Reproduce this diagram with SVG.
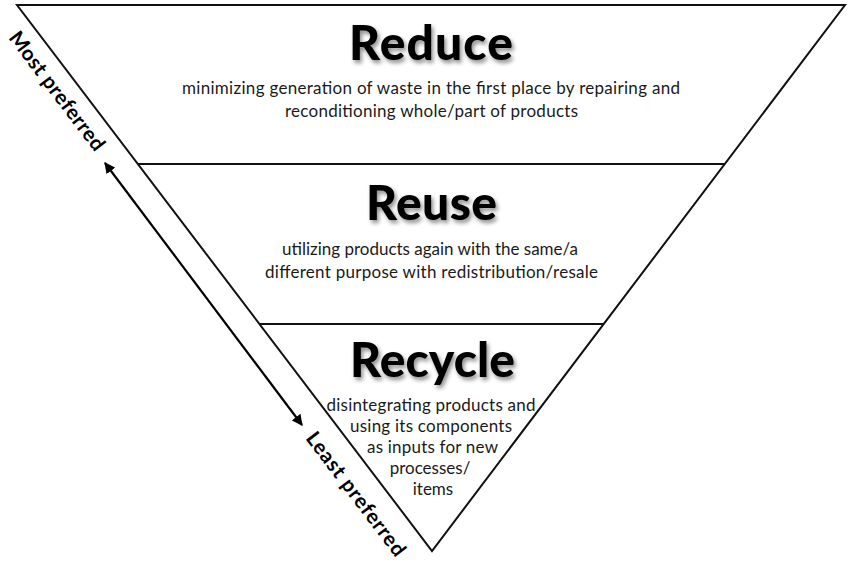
<svg xmlns="http://www.w3.org/2000/svg" width="850" height="565" viewBox="0 0 850 565">
<defs>
<style>
.edge{fill:none;stroke:#111;stroke-width:2;stroke-linejoin:miter}
.title{font-family:Lato,"Open Sans",sans-serif;font-weight:900;font-size:48px;fill:#000;text-anchor:middle}
.desc{font-family:Lato,"Open Sans",sans-serif;font-size:17px;fill:#1a1a1a;text-anchor:middle}
.side{font-family:Lato,"Open Sans",sans-serif;font-weight:bold;font-size:20.5px;fill:#000;text-anchor:middle}
</style>
<filter id="shadow" x="-10%" y="-20%" width="130%" height="150%">
<feDropShadow dx="2" dy="3" stdDeviation="2" flood-color="#000" flood-opacity="0.45"/>
</filter>
<marker id="ah" viewBox="0 0 10 10" refX="9" refY="5" markerWidth="5" markerHeight="5" orient="auto-start-reverse">
<path d="M0,0 L10,5 L0,10 z" fill="#000"/>
</marker>
</defs>
<rect width="850" height="565" fill="#fff"/>
<g id="pyramid">
<polygon class="edge" points="17,5 845,5 432,551"/>
</g>
<g id="reduce">
<line class="edge" x1="138" y1="164" x2="724" y2="164"/>
<text class="title" x="431" y="60" textLength="164" filter="url(#shadow)">Reduce</text>
<text class="desc" x="431" y="94" textLength="498">minimizing generation of waste in the first place by repairing and</text>
<text class="desc" x="431.5" y="117" textLength="293">reconditioning whole/part of products</text>
</g>
<g id="reuse">
<line class="edge" x1="260" y1="324" x2="603" y2="324"/>
<text class="title" x="431.5" y="220" textLength="131" filter="url(#shadow)">Reuse</text>
<text class="desc" x="430" y="255" textLength="296">utilizing products again with the same/a</text>
<text class="desc" x="431.5" y="278" textLength="333">different purpose with redistribution/resale</text>
</g>
<g id="recycle">
<text class="title" x="432.5" y="377" textLength="165" filter="url(#shadow)">Recycle</text>
<text class="desc" x="431" y="411" textLength="209">disintegrating products and</text>
<text class="desc" x="431" y="432" textLength="162">using its components</text>
<text class="desc" x="432.5" y="453" textLength="131">as inputs for new</text>
<text class="desc" x="430" y="474">processes/</text>
<text class="desc" x="433" y="495">items</text>
</g>
<g id="connectors">
<line x1="105" y1="163" x2="302" y2="425" stroke="#000" stroke-width="2.2" marker-start="url(#ah)" marker-end="url(#ah)"/>
</g>
<g id="most-preferred">
<text class="side" transform="translate(57,91) rotate(52.8)" x="0" y="7" textLength="144">Most preferred</text>
</g>
<g id="least-preferred">
<text class="side" transform="translate(356,494) rotate(52.8)" x="0" y="7" textLength="150">Least preferred</text>
</g>
</svg>
